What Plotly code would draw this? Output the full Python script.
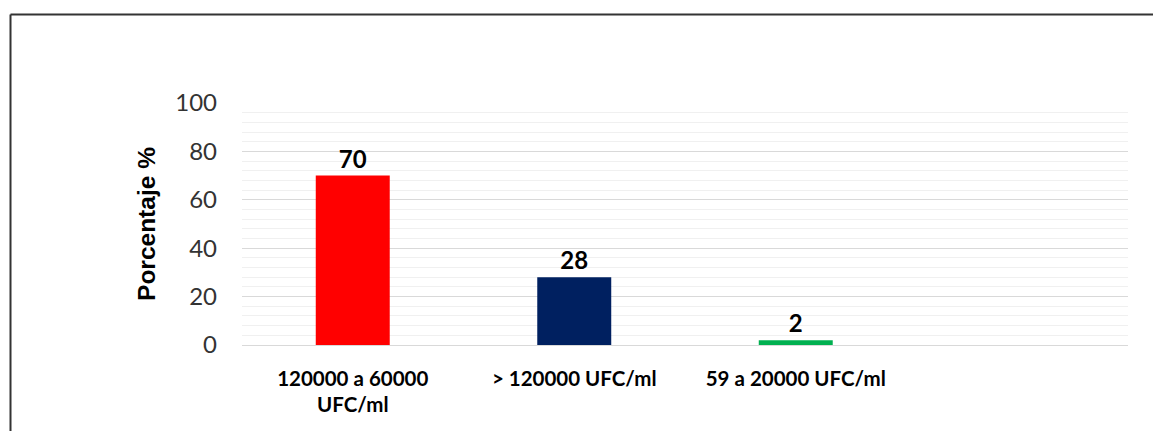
import plotly.graph_objects as go

# Conteo de UFC/ml por rango: porcentaje de muestras
categorias = ["120000 a 60000<br>UFC/ml", "> 120000 UFC/ml", "59 a 20000 UFC/ml"]
porcentajes = [70, 28, 2]
colores = ["#ff0000", "#002060", "#00b050"]
ticks_y = [0, 20, 40, 60, 80, 100]

W, H = 1153, 431
ml, mr, mt, mb = 242, 25, 103, 86
pw, ph = W - ml - mr, H - mt - mb


def px_x(x):
    return (x - ml) / pw


def px_y(y):
    return (H - mb - y) / ph


fig = go.Figure()
fig.add_trace(go.Bar(
    x=categorias,
    y=porcentajes,
    marker=dict(color=colores, line=dict(width=0)),
    width=0.334,
    text=[str(v) for v in porcentajes],
    textposition="outside",
    textfont=dict(family="Lato, Open Sans, sans-serif", size=24, color="#000000", weight="bold"),
    cliponaxis=False,
    hoverinfo="skip",
))

fig.update_layout(
    width=W, height=H,
    margin=dict(l=ml, r=mr, t=mt, b=mb),
    paper_bgcolor="white",
    plot_bgcolor="white",
    showlegend=False,
    xaxis=dict(
        type="category",
        categoryorder="array",
        categoryarray=categorias,
        range=[-0.5, 3.5],
        showgrid=False,
        showline=False,
        zeroline=False,
        ticks="",
        tickfont=dict(family="Lato, Open Sans, sans-serif", size=20.5, color="#000000", weight="bold"),
        ticklabelstandoff=19,
    ),
    yaxis=dict(
        range=[0, 100],
        tickvals=ticks_y,
        showgrid=True,
        gridcolor="#d9d9d9",
        gridwidth=1,
        minor=dict(dtick=4, showgrid=True, gridcolor="#f0f0f0", gridwidth=1, tick0=0),
        zeroline=True,
        zerolinecolor="#d9d9d9",
        zerolinewidth=1,
        showline=False,
        ticks="",
        tickfont=dict(family="Lato, Open Sans, sans-serif", size=24, color="#333333"),
        ticklabelstandoff=24,
        title=dict(
            text="Porcentaje %",
            font=dict(family="Liberation Sans, Arial, sans-serif", size=24.5, color="#000000", weight="bold"),
            standoff=12,
        ),
    ),
    shapes=[
        dict(type="line", xref="paper", yref="paper",
             x0=px_x(10.5), x1=px_x(W + 2), y0=px_y(14.5), y1=px_y(14.5),
             line=dict(color="#333333", width=2)),
        dict(type="line", xref="paper", yref="paper",
             x0=px_x(10.5), x1=px_x(10.5), y0=px_y(14.5), y1=px_y(H + 2),
             line=dict(color="#333333", width=2)),
    ],
)

fig.write_html("out.html")
